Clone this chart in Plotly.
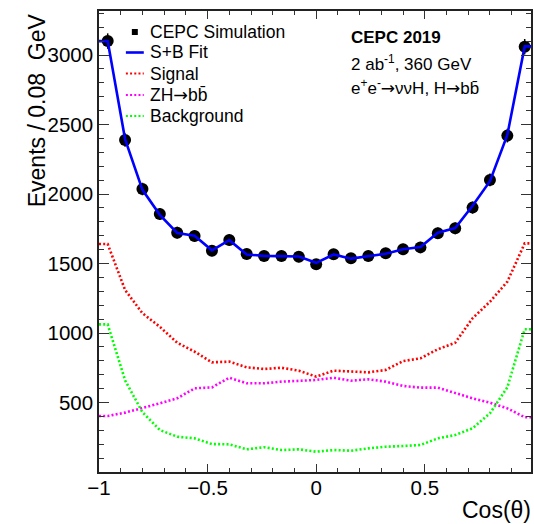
import plotly.graph_objects as go

# ---------------- data ----------------
bin_centers = [-0.96, -0.88, -0.80, -0.72, -0.64, -0.56, -0.48, -0.40, -0.32, -0.24,
               -0.16, -0.08, 0.00, 0.08, 0.16, 0.24, 0.32, 0.40, 0.48, 0.56,
               0.64, 0.72, 0.80, 0.88, 0.96]
data_counts = [3100, 2388, 2036, 1856, 1722, 1698, 1592, 1669, 1568, 1554,
               1554, 1549, 1494, 1566, 1537, 1554, 1573, 1602, 1616, 1717,
               1753, 1902, 2101, 2420, 3060]
data_errors = [55.7, 48.9, 45.1, 43.1, 41.5, 41.2, 39.9, 40.9, 39.6, 39.4,
               39.4, 39.4, 38.7, 39.6, 39.2, 39.4, 39.7, 40.0, 40.2, 41.4,
               41.9, 43.6, 45.8, 49.2, 55.3]
fit_sb = [3100, 2395, 2030, 1850, 1720, 1700, 1595, 1668, 1565, 1555,
          1555, 1550, 1505, 1565, 1535, 1555, 1570, 1602, 1618, 1722,
          1755, 1915, 2092, 2425, 3062]
signal = [1640, 1310, 1142, 1045, 930, 866, 789, 794, 753, 741,
          750, 729, 686, 729, 722, 717, 734, 798, 818, 883,
          930, 1106, 1225, 1369, 1645]
zh_bb = [403, 427, 458, 494, 530, 602, 609, 678, 638, 638,
         650, 657, 662, 678, 657, 667, 650, 619, 607, 607,
         566, 530, 499, 458, 394]
background = [1062, 660, 430, 302, 254, 242, 201, 199, 163, 178,
              158, 163, 146, 158, 153, 170, 182, 187, 194, 242,
              266, 314, 422, 609, 1027]

x_edges = [-1.0, 1.0]
x_tick_labels = ["\u22121", "\u22120.5", "0", "0.5"]
x_tick_vals = [-1, -0.5, 0, 0.5]
y_tick_vals = [500, 1000, 1500, 2000, 2500, 3000]

ARROW = "<span style='font-family:DejaVu Sans'>\u2192</span>"
legend_labels = ["CEPC Simulation", "S+B Fit", "Signal", "ZH" + ARROW + "bb\u0304", "Background"]
info_lines = ["<b>CEPC 2019</b>",
              "2 ab<sup>-1</sup>, 360 GeV",
              "e<sup>+</sup>e<sup>-</sup>" + ARROW + "\u03bd\u03bdH, H" + ARROW + "bb\u0304"]

# ---------------- style ----------------
FONT = "Liberation Sans, Arial, Helvetica, sans-serif"
W, H = 534, 524
PL, PR, PT, PB = 99, 533, 11, 472  # plot area in pixels
XMAX = -1 + (PR - PL) / 218.2
YMAX = (PB - PT) / 0.139


def px(x):
    return (x - PL) / (PR - PL)


def py(y):
    return (PB - y) / (PB - PT)


def hist_line(vals):
    # ROOT-style line through bin centres, extended flat to the edges
    xs = [x_edges[0]] + bin_centers + [x_edges[1]]
    ys = [vals[0]] + vals + [vals[-1]]
    return xs, ys


DOT = "2px,2.2px"
series = [
    (signal, "#ff0000"),
    (zh_bb, "#ff00ff"),
    (background, "#00ff00"),
]

fig = go.Figure()
for vals, col in series:
    xs, ys = hist_line(vals)
    fig.add_trace(go.Scatter(x=xs, y=ys, mode="lines",
                             line=dict(color=col, width=2.6, dash=DOT),
                             showlegend=False, hoverinfo="skip"))

fig.add_trace(go.Scatter(x=bin_centers, y=data_counts, mode="markers",
                         marker=dict(color="black", size=12, symbol="circle"),
                         error_y=dict(type="data", array=data_errors, color="black",
                                      thickness=1.5, width=0),
                         showlegend=False))

xs, ys = hist_line(fit_sb)
fig.add_trace(go.Scatter(x=xs, y=ys, mode="lines",
                         line=dict(color="#0000ff", width=2.6),
                         showlegend=False))

# ---------------- legend (drawn ROOT-style) ----------------
rows_y = [32, 52.5, 73.5, 95, 116]
shapes = []
annots = []
# square marker
shapes.append(dict(type="rect", xref="paper", yref="paper",
                   x0=px(132), x1=px(138), y0=py(rows_y[0] + 3), y1=py(rows_y[0] - 3),
                   fillcolor="black", line=dict(width=0)))
leg_styles = [("#0000ff", "solid"), ("#ff0000", DOT), ("#ff00ff", DOT), ("#00ff00", DOT)]
for (col, dash), yy in zip(leg_styles, rows_y[1:]):
    shapes.append(dict(type="line", xref="paper", yref="paper",
                       x0=px(126), x1=px(144), y0=py(yy), y1=py(yy),
                       line=dict(color=col, width=2.6 if dash == "solid" else 2.2, dash=dash)))
for lab, yy in zip(legend_labels, rows_y):
    annots.append(dict(text=lab, xref="paper", yref="paper", x=px(148), y=py(yy),
                       xanchor="left", yanchor="middle", showarrow=False,
                       font=dict(family=FONT, size=17.5, color="black")))

info_y = [38, 63, 87]
for t, yy in zip(info_lines, info_y):
    annots.append(dict(text=t, xref="paper", yref="paper", x=px(350), y=py(yy),
                       xanchor="left", yanchor="middle", showarrow=False,
                       font=dict(family=FONT, size=17, color="black")))

# axis titles
annots.append(dict(text="Events / 0.08\u00a0 GeV", xref="paper", yref="paper",
                   x=px(36.5), y=py(110.5), textangle=-90,
                   xanchor="center", yanchor="middle", showarrow=False,
                   font=dict(family=FONT, size=23, color="black")))
annots.append(dict(text="Cos(\u03b8)", xref="paper", yref="paper",
                   x=px(535), y=py(510), xanchor="right", yanchor="middle",
                   showarrow=False, font=dict(family=FONT, size=23, color="black")))

axis_common = dict(showline=True, linecolor="#222", linewidth=1.5, mirror="ticks",
                   ticks="inside", tickcolor="#333", tickwidth=1.2,
                   showgrid=False, zeroline=False,
                   tickfont=dict(family=FONT, size=20.5, color="black"))

fig.update_layout(
    width=W, height=H,
    margin=dict(l=PL, r=W - PR, t=PT, b=H - PB),
    paper_bgcolor="white", plot_bgcolor="white",
    font=dict(family=FONT, color="black"),
    xaxis=dict(range=[-1, XMAX], tickmode="array", tickvals=x_tick_vals,
               ticktext=x_tick_labels, ticklen=8, ticklabelstandoff=-3,
               minor=dict(ticks="inside", ticklen=4.5, dtick=0.1, tick0=0,
                          tickcolor="#333", tickwidth=1.2),
               **axis_common),
    yaxis=dict(range=[0, YMAX], tickmode="array", tickvals=y_tick_vals, ticklen=10,
               minor=dict(ticks="inside", ticklen=5.5, dtick=100, tick0=0,
                          tickcolor="#333", tickwidth=1.2),
               **axis_common),
    shapes=shapes,
    annotations=annots,
    showlegend=False,
)

fig.write_html("out.html", config={"displayModeBar": False})
